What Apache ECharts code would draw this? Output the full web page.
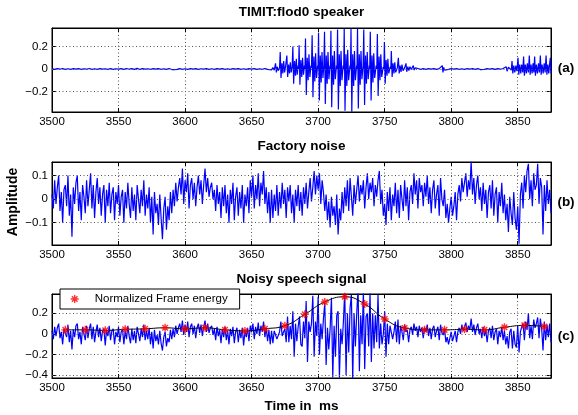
<!DOCTYPE html>
<html>
<head>
<meta charset="utf-8">
<script src="https://cdn.jsdelivr.net/npm/echarts@6/dist/echarts.min.js"></script>
<style>html,body{margin:0;padding:0;background:#fff}#c{width:578px;height:415px}</style>
</head>
<body>
<div id="c"></div>
<script>
// ---------- data ----------
const titles = ['TIMIT:flod0 speaker', 'Factory noise', 'Noisy speech signal'];
const panelTags = ['(a)', '(b)', '(c)'];
const xLabel = 'Time in  ms';
const yLabel = 'Amplitude';
const legendName = 'Normalized Frame energy';

const xMin = 3500, xMax = 3875, xStep = 50;
const ticksA = [-0.2, 0, 0.2];
const ticksB = [-0.1, 0, 0.1];
const ticksC = [-0.4, -0.2, 0, 0.2];

// (a) clean speech: [time ms, amplitude]
const speechA = [
[3500,0.002],[3502,-0.003],[3504,0.003],[3506,-0.002],[3508,0.004],[3510,-0.003],[3512,0.002],[3514,-0.004],[3516,0.003],[3518,-0.002],
[3520,0.003],[3522,-0.003],[3524,0.002],[3526,-0.002],[3528,0.004],[3530,-0.003],[3532,0.002],[3534,-0.003],[3536,0.003],[3538,-0.002],
[3540,0.002],[3542,-0.003],[3544,0.003],[3546,-0.004],[3548,0.002],[3550,-0.002],[3552,0.003],[3554,-0.003],[3556,0.004],[3558,-0.002],
[3560,0.003],[3562,-0.003],[3564,0.005],[3566,-0.004],[3568,0.003],[3570,-0.002],[3572,0.002],[3574,-0.003],[3576,0.003],[3578,-0.002],
[3580,0.003],[3582,-0.003],[3584,0.002],[3586,-0.004],[3588,0.004],[3590,-0.005],[3591,0.008],[3592,-0.006],[3593,0.006],[3594,-0.004],
[3596,0.003],[3598,-0.003],[3600,0.002],[3602,-0.003],[3604,0.003],[3606,-0.002],[3608,0.003],[3610,-0.003],[3612,0.002],[3614,-0.002],
[3616,0.003],[3618,-0.003],[3620,0.002],[3622,-0.003],[3624,0.003],[3626,-0.002],[3628,0.003],[3630,-0.003],[3632,0.002],[3634,-0.003],
[3636,0.003],[3638,-0.002],[3640,0.003],[3642,-0.003],[3644,0.002],[3646,-0.003],[3648,0.003],[3650,-0.002],[3652,0.003],[3654,-0.003],
[3656,0.002],[3658,-0.003],[3660,0.004],[3662,-0.004],[3663.5,0.006],[3665,-0.008],[3666,0.012],[3667,-0.01],
[3667.5,0.0],[3668,0.05],[3668.6,-0.03],[3669.3,0.02],[3670,-0.015],
[3671,0.01],[3671.5,0.15],[3672.1,-0.08],[3672.8,0.05],[3673.5,-0.04],[3674.1,0.07],[3674.8,-0.03],[3675.5,0.02],
[3676,0.01],[3676.5,0.12],[3677.1,-0.07],[3677.8,0.04],[3678.5,-0.04],[3679.1,0.06],[3679.8,-0.03],[3680.5,0.02],
[3681,0.20],[3681.6,-0.13],[3682.3,0.07],[3683,-0.06],[3683.6,0.09],[3684.3,-0.05],[3685,0.03],
[3685.3,0.0],[3685.7,0.21],[3686.3,-0.14],[3687,0.08],[3687.7,-0.07],[3688.3,0.1],[3689,-0.05],[3689.7,0.03],
[3690.1,0.0],[3690.5,0.27],[3691.1,-0.23],[3691.8,0.1],[3692.5,-0.1],[3693.1,0.13],[3693.8,-0.07],[3694.6,0.03],
[3695,0.01],[3695.5,0.30],[3696.1,-0.25],[3696.8,0.11],[3697.5,-0.11],[3698.1,0.14],[3698.8,-0.08],[3699.6,0.03],
[3699.9,0.0],[3700.3,0.32],[3700.9,-0.28],[3701.6,0.12],[3702.3,-0.12],[3702.9,0.15],[3703.6,-0.08],[3704.3,0.03],
[3704.8,0.33],[3705.4,-0.31],[3706.1,0.12],[3706.8,-0.13],[3707.4,0.15],[3708.1,-0.09],[3708.9,0.03],
[3709.2,0.0],[3709.6,0.34],[3710.2,-0.34],[3710.9,0.12],[3711.6,-0.14],[3712.2,0.16],[3712.9,-0.09],[3713.8,0.03],
[3714.2,0.0],[3714.6,0.35],[3715.2,-0.36],[3715.9,0.13],[3716.6,-0.15],[3717.2,0.16],[3717.9,-0.1],[3718.8,0.03],
[3719.2,0.0],[3719.6,0.36],[3720.2,-0.37],[3720.9,0.13],[3721.6,-0.15],[3722.2,0.17],[3722.9,-0.1],[3723.9,0.03],
[3724.3,0.0],[3724.7,0.36],[3725.3,-0.38],[3726,0.13],[3726.7,-0.15],[3727.3,0.16],[3728,-0.1],[3728.9,0.03],
[3729.2,0.0],[3729.6,0.36],[3730.2,-0.35],[3730.9,0.13],[3731.6,-0.14],[3732.2,0.16],[3732.9,-0.09],[3733.8,0.03],
[3734.3,0.35],[3734.9,-0.32],[3735.6,0.12],[3736.3,-0.13],[3736.9,0.15],[3737.6,-0.09],[3738.5,0.03],
[3738.8,0.0],[3739.2,0.33],[3739.8,-0.28],[3740.5,0.12],[3741.2,-0.12],[3741.8,0.14],[3742.5,-0.08],[3743.6,0.03],
[3744.1,0.0],[3744.5,0.31],[3745.1,-0.24],[3745.8,0.11],[3746.5,-0.1],[3747.1,0.13],[3747.8,-0.07],[3748.9,0.02],
[3749.4,0.0],[3749.8,0.24],[3750.4,-0.13],[3751.1,0.08],[3751.8,-0.06],[3752.4,0.09],[3753.1,-0.04],[3754.2,0.02],
[3754.6,0.0],[3755,0.16],[3755.6,-0.07],[3756.3,0.05],[3757,-0.04],[3757.6,0.06],[3758.3,-0.03],[3759.5,0.01],
[3760,0.0],[3760.3,0.10],[3760.9,-0.04],[3761.6,0.03],[3762.3,-0.025],[3763,0.04],[3763.8,-0.015],[3765,0.01],
[3765.6,0.0],[3766,0.05],[3766.6,-0.025],[3767.4,0.02],[3768.2,-0.015],[3769,0.02],[3770,-0.005],
[3771.5,0.03],[3772.2,-0.01],[3773,0.01],[3774,0.0],
[3775,0.004],[3777,-0.004],[3779,0.003],[3781,-0.003],[3783,0.003],[3785,-0.002],[3787,0.003],[3789,-0.003],[3791,0.003],[3792.5,-0.004],
[3793.3,0.03],[3793.8,-0.03],[3794.4,0.015],[3795,-0.01],[3796,0.004],[3798,-0.003],[3800,0.003],[3802,-0.002],[3804,0.003],[3806,-0.003],
[3808,0.002],[3810,-0.003],[3812,0.003],[3814,-0.002],[3816,0.003],[3818,-0.003],[3820,0.003],[3822,-0.006],[3822.6,-0.012],[3823.3,0.004],
[3825,-0.003],[3827,0.003],[3829,-0.002],[3831,0.003],[3833,-0.003],[3835,0.003],[3837,-0.002],[3839,0.004],[3840.5,-0.008],[3841.3,0.02],
[3842,-0.02],[3843,0.015],
[3845.2,-0.01],[3845.7,0.07],[3846.3,-0.04],[3847,0.03],[3847.8,-0.03],[3848.6,0.03],[3849.4,-0.02],
[3850.2,0.1],[3850.8,-0.05],[3851.5,0.04],[3852.3,-0.04],[3853,0.04],[3853.8,-0.03],
[3854.4,0.11],[3855,-0.06],[3855.7,0.04],[3856.5,-0.04],[3857.2,0.05],[3858,-0.03],
[3858.7,0.12],[3859.3,-0.05],[3860,0.04],[3860.8,-0.04],[3861.5,0.05],[3862.1,-0.03],
[3862.7,0.11],[3863.3,-0.06],[3864,0.04],[3864.8,-0.04],[3865.6,0.05],[3866.3,-0.03],
[3867,0.12],[3867.6,-0.05],[3868.3,0.04],[3869.1,-0.04],[3869.9,0.05],[3870.6,-0.03],
[3871.3,0.12],[3871.9,-0.05],[3872.6,0.04],[3873.3,-0.04],[3874,0.05],[3874.5,0.1],[3875,-0.04]
];

// (b) factory noise, one value per ms from 3500
const noiseStart = 3500, noiseStep = 1;
const noiseB = [
0.02,-0.04,0.08,-0.02,0.05,0.1,-0.05,0.03,-0.1,0.04,
0.06,-0.03,0.1,-0.07,0.02,-0.16,0.05,-0.02,0.07,0.1,
-0.05,0.03,-0.09,0.06,0.01,-0.06,0.08,-0.03,0.04,0.11,
-0.04,0.06,-0.08,0.03,0.09,-0.02,0.05,-0.07,0.02,0.06,
-0.1,0.04,-0.03,0.07,-0.06,0.02,0.05,-0.09,0.03,-0.02,
0.06,-0.07,0.01,0.04,-0.1,0.03,-0.04,0.07,-0.02,-0.08,
0.05,-0.05,0.02,-0.09,0.06,0.0,-0.06,0.04,-0.03,0.08,
-0.07,0.02,-0.04,0.05,-0.1,0.01,-0.15,0.03,-0.06,-0.02,
-0.11,0.02,-0.08,-0.17,-0.04,0.01,-0.13,-0.03,-0.09,0.03,
-0.06,0.04,-0.03,0.07,-0.01,0.05,0.09,0.02,0.13,-0.02,
0.08,0.03,0.11,-0.04,0.06,0.09,0.0,0.07,-0.03,0.05,
0.1,0.02,0.08,-0.02,0.06,0.13,0.03,0.09,0.01,0.05,
0.07,0.0,0.04,-0.05,0.06,-0.02,0.03,-0.08,0.05,-0.03,
0.06,-0.06,0.02,-0.1,0.04,-0.02,0.07,-0.09,0.01,0.05,
-0.07,0.03,-0.04,0.06,-0.1,0.02,-0.03,0.05,-0.06,0.08,
0.01,0.1,-0.04,0.06,0.0,0.11,-0.03,0.07,0.02,0.12,
-0.02,0.05,-0.06,0.03,-0.1,0.04,-0.08,0.02,-0.05,0.06,
-0.07,0.03,-0.04,0.07,-0.02,0.04,-0.08,0.05,-0.01,0.06,
-0.06,0.02,-0.1,0.04,-0.03,0.06,-0.05,0.03,-0.07,0.05,
-0.02,0.07,-0.04,0.03,0.09,-0.01,0.05,0.12,0.02,0.1,
0.04,0.11,-0.02,0.08,0.03,-0.05,0.02,-0.09,-0.01,-0.12,
0.01,-0.07,-0.03,-0.11,0.02,-0.15,-0.04,-0.09,0.03,-0.06,
0.05,-0.03,0.08,-0.05,0.09,0.01,-0.07,0.06,-0.02,0.04,
0.1,-0.01,0.06,0.02,0.08,-0.04,0.05,0.11,0.0,0.07,
0.03,0.09,-0.03,0.06,0.01,0.08,0.12,-0.02,0.04,-0.07,
-0.02,-0.11,0.03,-0.05,0.05,-0.09,0.02,-0.03,0.07,-0.06,
0.04,-0.08,0.06,0.0,-0.05,0.08,-0.03,0.05,-0.09,0.03,
0.06,-0.02,0.11,0.02,0.08,-0.04,0.09,0.03,0.06,-0.03,
0.07,0.01,0.1,-0.02,0.05,-0.06,0.04,0.08,-0.04,0.02,
0.06,-0.07,0.09,0.0,-0.03,0.04,-0.08,-0.02,-0.1,-0.04,
0.01,-0.07,-0.03,0.03,-0.09,0.02,0.06,-0.01,0.09,0.03,
0.07,0.11,0.01,0.08,0.04,0.16,0.02,0.09,-0.02,0.06,
0.1,0.0,0.05,-0.05,0.07,-0.02,0.04,-0.08,0.03,0.06,
-0.04,0.08,-0.07,0.02,0.05,-0.1,0.03,-0.03,0.07,-0.06,
0.02,-0.09,-0.02,-0.14,0.01,-0.06,-0.11,0.03,-0.08,-0.13,
-0.03,-0.19,0.02,0.07,-0.04,0.1,0.03,0.12,0.15,0.0,
0.08,-0.03,0.11,0.04,0.06,0.15,-0.02,0.09,0.05,-0.15,
0.06,-0.05,0.08,-0.02,0.04,-0.06
];

// (c) noisy speech, one value per ms from 3500
const noisyC = [
0.03,-0.05,0.07,-0.02,0.06,0.1,-0.04,0.02,-0.1,0.05,
0.06,-0.03,0.09,-0.08,0.03,-0.15,0.04,-0.03,0.08,0.1,
-0.05,0.02,-0.1,0.07,0.0,-0.06,0.08,-0.04,0.05,0.1,
-0.05,0.07,-0.08,0.02,0.09,-0.03,0.06,-0.07,0.03,0.05,
-0.11,0.04,-0.02,0.08,-0.06,0.03,0.05,-0.1,0.02,-0.03,
0.07,-0.08,0.02,0.05,-0.1,0.03,-0.05,0.08,-0.02,-0.09,
0.05,-0.06,0.03,-0.09,0.07,0.0,-0.07,0.05,-0.03,0.09,
-0.06,0.03,-0.05,0.06,-0.1,0.02,-0.14,0.04,-0.07,-0.01,
-0.1,0.03,-0.09,-0.16,-0.03,0.02,-0.12,-0.04,-0.08,0.04,
-0.05,0.05,-0.03,0.08,0.0,0.06,0.1,0.02,0.13,-0.01,
0.09,0.02,0.12,-0.03,0.07,0.1,0.0,0.08,-0.04,0.06,
0.1,0.01,0.09,-0.02,0.07,0.13,0.02,0.1,0.01,0.06,
0.08,-0.01,0.05,-0.06,0.07,-0.02,0.04,-0.09,0.05,-0.03,
0.07,-0.06,0.03,-0.1,0.05,-0.02,0.07,-0.09,0.02,0.06,
-0.08,0.04,-0.04,0.06,-0.11,0.03,-0.03,0.06,-0.07,0.08,
0.02,0.1,-0.05,0.07,0.0,0.11,-0.02,0.08,0.02,0.12,
-0.03,0.06,-0.07,0.04,-0.1,0.03,-0.09,0.03,0.02,-0.05,
-0.06,0.02,0.12,-0.02,0.02,0.05,-0.08,0.17,-0.08,0.08,
-0.05,0.22,-0.22,0.1,-0.07,0.07,0.17,-0.1,-0.12,0.12,
-0.04,0.32,-0.27,0.12,0.02,0.1,0.37,-0.22,0.12,-0.02,
0.36,-0.2,0.1,-0.05,0.15,0.3,-0.3,0.06,-0.15,0.05,
0.35,-0.42,0.08,-0.22,0.18,0.22,-0.42,0.05,-0.1,0.12,
0.42,-0.4,0.2,-0.18,0.25,0.38,-0.44,0.2,-0.12,0.2,
0.44,-0.36,0.18,-0.1,0.42,-0.34,0.17,0.2,-0.12,0.4,
-0.27,0.2,-0.14,0.18,-0.08,0.38,-0.14,0.1,-0.1,0.0,
0.22,-0.22,0.1,-0.1,0.08,0.08,-0.05,0.02,0.12,-0.08,
0.14,-0.1,0.08,0.02,-0.06,0.09,0.02,0.04,-0.08,0.04,
0.07,-0.01,0.1,0.03,0.07,-0.03,0.08,0.02,0.06,-0.04,
0.06,0.02,0.09,-0.02,0.06,-0.05,0.05,0.08,-0.03,0.03,
0.07,-0.06,0.09,0.01,-0.01,0.05,-0.08,-0.03,-0.1,-0.04,
0.02,-0.07,-0.02,0.03,-0.08,0.02,0.06,0.0,0.09,0.03,
0.07,0.11,0.02,0.08,0.04,0.15,0.02,0.09,-0.01,0.06,
0.1,0.0,0.05,-0.04,0.07,-0.02,0.04,-0.08,0.03,0.06,
-0.04,0.08,-0.06,0.02,0.05,-0.1,0.03,-0.03,0.07,-0.06,
0.03,-0.1,-0.02,-0.14,0.02,0.05,-0.14,0.03,-0.1,-0.13,
0.08,-0.18,0.02,0.07,0.1,-0.06,0.12,0.04,0.2,-0.04,
0.08,-0.05,0.14,0.06,0.1,0.16,-0.04,0.15,0.05,-0.16,
0.12,-0.06,0.09,-0.03,0.1,-0.08
];

// normalized frame energy
const energyTime = [3510,3525,3540,3555,3570,3585,3600,3615,3630,3645,3660,3675,3690,3705,3720,3735,3750,3765,3780,3795,3810,3825,3840,3855,3870];
const energyValue = [0.04,0.04,0.035,0.045,0.05,0.06,0.05,0.06,0.04,0.03,0.05,0.08,0.19,0.31,0.36,0.29,0.145,0.058,0.04,0.04,0.045,0.04,0.065,0.083,0.073];

// ---------- layout ----------
const FONT = '"Liberation Sans", Arial, Helvetica, sans-serif';
const panels = [
  {top: 28, height: 84, min: -0.382, max: 0.364, ticks: ticksA},
  {top: 162, height: 83, min: -0.195, max: 0.158, ticks: ticksB},
  {top: 294, height: 84, min: -0.426, max: 0.387, ticks: ticksC}
];
const gridLine = {color: '#555', width: 1, type: [1, 2.5]};
const fmt = v => (Math.abs(v) < 1e-9 ? '0' : String(+v.toFixed(2)).replace('-', '\u2212'));
const fmtX = v => String(Math.round(v));

const grid = [], xAxis = [], yAxis = [];
panels.forEach((p, i) => {
  grid.push({left: 52, right: 27, top: p.top, height: p.height, show: true,
    borderColor: '#000', borderWidth: 1, backgroundColor: '#fff'});
  xAxis.push({type: 'value', gridIndex: i, position: 'bottom', min: xMin, max: xMax, interval: xStep,
    axisLine: {show: true, onZero: false, lineStyle: {color: '#000', width: 1}},
    axisTick: {inside: true, length: 4, lineStyle: {color: '#000'}},
    axisLabel: {color: '#000', fontSize: 11.5, fontFamily: FONT, margin: 4, showMaxLabel: false, formatter: fmtX},
    splitLine: {show: true, lineStyle: gridLine}});
  xAxis.push({type: 'value', gridIndex: i, position: 'top', min: xMin, max: xMax, interval: xStep,
    axisLine: {show: true, onZero: false, lineStyle: {color: '#000', width: 1}},
    axisTick: {inside: true, length: 4, lineStyle: {color: '#000'}},
    axisLabel: {show: false}, splitLine: {show: false}});
  yAxis.push({type: 'value', gridIndex: i, position: 'left', min: p.min, max: p.max,
    axisLine: {show: true, onZero: false, lineStyle: {color: '#000', width: 1}},
    axisTick: {inside: true, length: 4, customValues: p.ticks, lineStyle: {color: '#000'}},
    axisLabel: {color: '#000', fontSize: 11.5, fontFamily: FONT, margin: 4, customValues: p.ticks, formatter: fmt},
    splitLine: {show: false}});
  yAxis.push({type: 'value', gridIndex: i, position: 'right', min: p.min, max: p.max,
    axisLine: {show: true, onZero: false, lineStyle: {color: '#000', width: 1}},
    axisTick: {inside: true, length: 4, customValues: p.ticks, lineStyle: {color: '#000'}},
    axisLabel: {show: false}, splitLine: {show: false}});
});

const hLines = ticks => ({silent: true, symbol: 'none', animation: false, label: {show: false},
  lineStyle: gridLine, emphasis: {disabled: true}, data: ticks.map(v => ({yAxis: v}))});

const blue = {color: '#0000ff', width: 1.2};
const series = [
  {type: 'line', xAxisIndex: 0, yAxisIndex: 0, data: speechA, showSymbol: false, symbol: 'none',
   lineStyle: blue, markLine: hLines(ticksA), z: 2},
  {type: 'line', xAxisIndex: 2, yAxisIndex: 2, data: noiseB.map((v, k) => [noiseStart + k * noiseStep, v]),
   showSymbol: false, symbol: 'none', lineStyle: blue, markLine: hLines(ticksB), z: 2},
  {type: 'line', xAxisIndex: 4, yAxisIndex: 4, data: noisyC.map((v, k) => [noiseStart + k * noiseStep, v]),
   showSymbol: false, symbol: 'none', lineStyle: blue, markLine: hLines(ticksC), z: 2},
  {type: 'line', xAxisIndex: 4, yAxisIndex: 4, data: energyTime.map((t, k) => [t, energyValue[k]]),
   smooth: 0.5, showSymbol: false, symbol: 'none', lineStyle: {color: '#000', width: 1}, z: 3},
  {type: 'scatter', name: legendName, xAxisIndex: 4, yAxisIndex: 4, data: energyTime.map((t, k) => [t, energyValue[k]]),
   symbol: 'path://M0,5L10,5M5,0L5,10M1.5,1.5L8.5,8.5M8.5,1.5L1.5,8.5', symbolSize: 8,
   itemStyle: {color: 'rgba(0,0,0,0)', borderColor: '#ff0000', borderWidth: 1.4}, z: 4}
];

const txt = (text, x, y, size, extra) => Object.assign({type: 'text', x: x, y: y, silent: true, z: 10,
  style: {text: text, font: 'bold ' + size + 'px ' + FONT, fill: '#000', align: 'center', verticalAlign: 'middle'}}, extra || {});
const graphic = [
  txt(titles[0], 301.5, 12, 13.5), txt(titles[1], 301.5, 146, 13.5), txt(titles[2], 301.5, 279, 13.5),
  txt(xLabel, 301.5, 406, 13.5),
  txt(yLabel, 13, 202, 14, {rotation: Math.PI / 2}),
  txt(panelTags[0], 566, 68, 13.5), txt(panelTags[1], 566, 202, 13.5), txt(panelTags[2], 566, 336, 13.5)
];

const chart = echarts.init(document.getElementById('c'), null, {renderer: 'canvas'});
chart.setOption({
  animation: false,
  backgroundColor: '#fff',
  grid: grid, xAxis: xAxis, yAxis: yAxis, series: series, graphic: graphic,
  legend: {show: true, data: [legendName], left: 60, top: 289, orient: 'horizontal',
    padding: [4, 12, 4, 10], itemWidth: 30, itemHeight: 8, itemGap: 0,
    backgroundColor: '#fff', borderColor: '#000', borderWidth: 1, borderRadius: 0,
    selectedMode: false, textStyle: {color: '#000', fontSize: 11.5, fontFamily: FONT},
    itemStyle: {color: 'rgba(0,0,0,0)', borderColor: '#ff0000', borderWidth: 1.4}}
});
</script>
</body>
</html>
